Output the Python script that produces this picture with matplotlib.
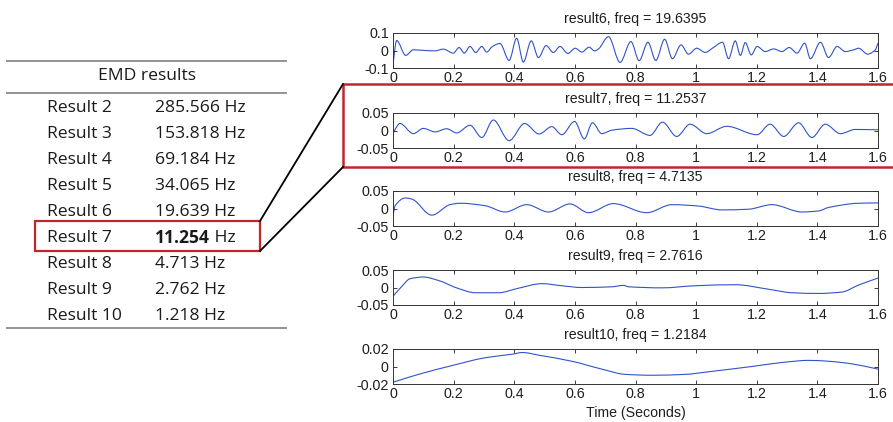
import matplotlib
matplotlib.use('Agg')
import matplotlib.pyplot as plt
from matplotlib.patches import Rectangle, PathPatch
from matplotlib.path import Path
from matplotlib.ticker import FuncFormatter

plt.rcParams['font.family'] = ['Liberation Sans', 'DejaVu Sans']

W, H = 893, 422

# ---------------- table data ----------------
table_header = 'EMD results'
table_labels = ['Result 2', 'Result 3', 'Result 4', 'Result 5', 'Result 6',
                'Result 7', 'Result 8', 'Result 9', 'Result 10']
table_freqs = ['285.566', '153.818', '69.184', '34.065', '19.639',
               '11.254', '4.713', '2.762', '1.218']
table_unit = 'Hz'
highlight_row = 5

# ---------------- panel data ----------------
panel_titles = ['result6, freq = 19.6395', 'result7, freq = 11.2537',
                'result8, freq = 4.7135', 'result9, freq = 2.7616',
                'result10, freq = 1.2184']
panel_yticks = [[-0.1, 0, 0.1], [-0.05, 0, 0.05], [-0.05, 0, 0.05],
                [-0.05, 0, 0.05], [-0.02, 0, 0.02]]
xticks = [0, 0.2, 0.4, 0.6, 0.8, 1.0, 1.2, 1.4, 1.6]
xlabel = 'Time (Seconds)'

t6 = [0.000, 0.012, 0.042, 0.067, 0.106, 0.139, 0.166, 0.199, 0.218, 0.235,
      0.254, 0.273, 0.293, 0.309, 0.328, 0.353, 0.383, 0.408, 0.430, 0.456,
      0.480, 0.505, 0.529, 0.551, 0.577, 0.601, 0.623, 0.647, 0.665, 0.678,
      0.711, 0.749, 0.785, 0.812, 0.841, 0.867, 0.896, 0.922, 0.950, 0.975,
      1.002, 1.030, 1.057, 1.087, 1.107, 1.129, 1.146, 1.162, 1.182, 1.201,
      1.228, 1.256, 1.283, 1.307, 1.333, 1.358, 1.377, 1.410, 1.437, 1.465,
      1.492, 1.520, 1.536, 1.566, 1.591, 1.600]
v6 = [-0.080, 0.057, -0.028, 0.004, 0.000, -0.002, 0.008, -0.015, 0.017, -0.015,
      0.023, -0.011, 0.023, -0.009, 0.023, 0.040, -0.057, 0.070, -0.066, 0.055,
      -0.040, 0.028, -0.011, 0.023, -0.017, 0.013, -0.009, 0.019, -0.002, 0.009,
      0.079, -0.068, 0.051, -0.058, 0.047, -0.057, 0.064, -0.047, 0.032, -0.021,
      0.013, -0.011, 0.017, 0.047, -0.047, 0.055, -0.028, 0.045, -0.025, 0.023,
      -0.006, 0.009, -0.006, 0.017, -0.015, 0.042, -0.047, 0.047, -0.040, 0.023,
      -0.006, 0.004, 0.013, -0.021, 0.004, 0.042]

t7 = [0.000, 0.023, 0.067, 0.100, 0.139, 0.177, 0.210, 0.254, 0.293, 0.331,
      0.383, 0.434, 0.482, 0.524, 0.557, 0.599, 0.631, 0.658, 0.689, 0.722,
      0.788, 0.848, 0.889, 0.936, 0.980, 1.035, 1.101, 1.201, 1.244, 1.289,
      1.338, 1.382, 1.426, 1.476, 1.525, 1.600]
v7 = [-0.007, 0.020, -0.009, 0.006, -0.004, 0.005, -0.007, 0.015, -0.020, 0.030,
      -0.029, 0.020, -0.010, 0.011, -0.012, 0.026, -0.024, 0.022, -0.009, 0.001,
      0.006, -0.014, 0.024, -0.017, 0.018, -0.009, 0.012, -0.012, 0.018, -0.017,
      0.022, -0.020, 0.018, -0.009, 0.003, 0.002]

t8 = [0.000, 0.007, 0.040, 0.062, 0.128, 0.188, 0.221, 0.304, 0.370, 0.441,
      0.513, 0.584, 0.645, 0.727, 0.837, 0.920, 1.008, 1.085, 1.173, 1.250,
      1.349, 1.404, 1.437, 1.536, 1.600]
v8 = [-0.021, 0.008, 0.030, 0.027, -0.019, 0.011, 0.015, 0.008, -0.010, 0.011,
      -0.010, 0.013, -0.012, 0.014, -0.012, 0.011, 0.007, -0.004, -0.002, 0.011,
      -0.010, -0.007, 0.003, 0.015, 0.016]

t9 = [0.000, 0.029, 0.056, 0.100, 0.150, 0.216, 0.271, 0.348, 0.414, 0.491,
      0.557, 0.623, 0.722, 0.760, 0.777, 0.887, 0.997, 1.129, 1.239, 1.316,
      1.404, 1.481, 1.536, 1.600]
v9 = [-0.025, 0.003, 0.025, 0.030, 0.020, -0.003, -0.015, -0.015, -0.002, 0.011,
      0.005, 0.000, 0.002, 0.006, 0.002, -0.001, 0.005, 0.008, -0.005, -0.015,
      -0.017, -0.013, 0.007, 0.027]

t10 = [0.000, 0.084, 0.194, 0.304, 0.392, 0.427, 0.480, 0.590, 0.689, 0.766,
       0.854, 0.964, 1.041, 1.184, 1.294, 1.371, 1.437, 1.514, 1.600]
v10 = [-0.018, -0.009, 0.001, 0.010, 0.014, 0.016, 0.013, 0.006, -0.003, -0.009,
       -0.010, -0.009, -0.006, 0.000, 0.005, 0.007, 0.006, 0.003, -0.003]

series = [(t6, v6), (t7, v7), (t8, v8), (t9, v9), (t10, v10)]


def smooth_path(t, v):
    """Shape-preserving cubic Bezier path through the read points
    (flat tangent at extrema), drawn by matplotlib in data coordinates."""
    n = len(t)
    s = []
    for i in range(n):
        if i == 0:
            s.append((v[1] - v[0]) / (t[1] - t[0]))
        elif i == n - 1:
            s.append((v[-1] - v[-2]) / (t[-1] - t[-2]))
        else:
            d0 = (v[i] - v[i - 1]) / (t[i] - t[i - 1])
            d1 = (v[i + 1] - v[i]) / (t[i + 1] - t[i])
            s.append(0.0 if d0 * d1 <= 0 else 2.0 / (1.0 / d0 + 1.0 / d1))
    verts = [(t[0], v[0])]
    codes = [Path.MOVETO]
    for i in range(n - 1):
        h = t[i + 1] - t[i]
        verts += [(t[i] + h / 3, v[i] + s[i] * h / 3),
                  (t[i + 1] - h / 3, v[i + 1] - s[i + 1] * h / 3),
                  (t[i + 1], v[i + 1])]
        codes += [Path.CURVE4] * 3
    return Path(verts, codes)


# ---------------- figure ----------------
fig = plt.figure(figsize=(W / 100, H / 100), dpi=100)

panel_tops = [33, 113, 191, 270, 349]
panel_h = 35
ax_left, ax_w = 393, 485


def rect(top, h):
    return [ax_left / W, 1 - (top + h) / H, ax_w / W, h / H]


fmt = FuncFormatter(lambda v, p: ('%g' % round(v, 3)))
line_color = '#3153c8'
txt_c = '#1e1e1e'

axes = []
for i, (title, yt, (tt, vv)) in enumerate(zip(panel_titles, panel_yticks, series)):
    ax = fig.add_axes(rect(panel_tops[i], panel_h))
    ax.add_patch(PathPatch(smooth_path(tt, vv), fill=False, ec=line_color, lw=0.8))
    ax.set_xlim(0, 1.6)
    ax.set_ylim(yt[0], yt[-1])
    ax.set_xticks(xticks)
    ax.set_yticks(yt)
    ax.xaxis.set_major_formatter(fmt)
    ax.yaxis.set_major_formatter(fmt)
    ax.tick_params(direction='in', top=True, right=True, length=3, width=0.6,
                   labelsize=10.3, pad=2.5, colors=txt_c)
    ax.tick_params(axis='y', pad=3)
    for sp in ax.spines.values():
        sp.set_linewidth(0.7)
        sp.set_color('#333333')
    ax.set_title(title, fontsize=10.2, pad=7.5, color=txt_c)
    axes.append(ax)
axes[-1].set_xlabel(xlabel, fontsize=10.2, labelpad=3, color=txt_c)

# ---------------- overlay for table & annotations ----------------
ov = fig.add_axes([0, 0, 1, 1], zorder=10)
ov.set_xlim(0, W)
ov.set_ylim(H, 0)
ov.axis('off')
ov.patch.set_alpha(0)

tfont = dict(family=['Open Sans', 'DejaVu Sans'], fontsize=12.6, color='#1a1a1a')
rule_c = '#808080'
for y in (61, 93, 328):
    ov.plot([6, 287], [y, y], color=rule_c, lw=1.2, solid_capstyle='butt')
ov.text(147, 76, table_header, ha='center', va='center', **tfont)

row0, dy = 107.5, 26.1
fig.canvas.draw()
renderer = fig.canvas.get_renderer()
for i, (lab, fr) in enumerate(zip(table_labels, table_freqs)):
    y = row0 + i * dy
    ov.text(47, y, lab, ha='left', va='center', **tfont)
    if i == highlight_row:
        tb = ov.text(155, y, fr, ha='left', va='center', fontweight='bold', **tfont)
        bb = tb.get_window_extent(renderer=renderer)
        x_end = ov.transData.inverted().transform((bb.x1, bb.y0))[0]
        ov.text(x_end, y, ' ' + table_unit, ha='left', va='center', **tfont)
    else:
        ov.text(155, y, fr + ' ' + table_unit, ha='left', va='center', **tfont)

red = '#c0272d'
ov.add_patch(Rectangle((35, 221), 225, 30, fill=False, ec=red, lw=1.6))
ov.plot([260, 343], [221, 84], color='black', lw=1.3)
ov.plot([260, 343], [251, 167], color='black', lw=1.3)
ov.add_patch(Rectangle((343, 84), 570, 83, fill=False, ec=red, lw=1.8))

fig.savefig('out.png', dpi=100)
